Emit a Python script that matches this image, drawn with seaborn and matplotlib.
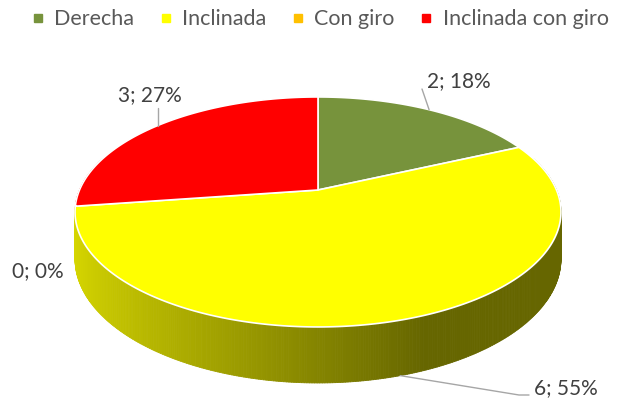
import numpy as np
import matplotlib
matplotlib.use("Agg")
import matplotlib.pyplot as plt
import seaborn as sns
from matplotlib.lines import Line2D
from matplotlib.collections import PolyCollection

# datos
categorias = ["Derecha", "Inclinada", "Con giro", "Inclinada con giro"]
valores = [2, 6, 0, 3]
colores = ["#77933C", "#FFFF00", "#FFC000", "#FF0000"]

sns.set_theme(style="white")
plt.rcParams['font.family'] = ['Lato', 'DejaVu Sans']

fig = plt.figure(figsize=(6.17, 4.01), dpi=100)
ax = fig.add_axes([0, 0, 1, 1])
ax.set_xlim(0, 617)
ax.set_ylim(401, 0)
ax.axis('off')

# perspective pie: centre, radius, tilt, perspective, depth
cx, cy = 318, 190
s, c, k, d = 238.5, 110.8, 0.191, 45.3


def proj(theta, level=0.0):
    t = np.radians(theta)
    X = np.sin(t)
    Z = -np.cos(t)
    w = 1 - k * Z
    return cx + s * X / w, cy + (c * Z + d * level) / w


total = sum(valores)
bordes = np.concatenate([[0], np.cumsum(valores) / total * 360])

# side wall (back to front)
polys, cols, zs = [], [], []
for i, v in enumerate(valores):
    if v == 0:
        continue
    a0, a1 = bordes[i], bordes[i + 1]
    n = max(2, int((a1 - a0) * 2))
    ths = np.linspace(a0, a1, n + 1)
    base = np.array(matplotlib.colors.to_rgb(colores[i]))
    for ta, tb in zip(ths[:-1], ths[1:]):
        tm = np.radians((ta + tb) / 2)
        Z = -np.cos(tm)
        if Z < -0.3:
            continue
        X = np.sin(tm)
        f = max(0.40, 0.52 - 0.33 * X)
        p = [proj(ta, 0), proj(tb, 0), proj(tb, 1), proj(ta, 1)]
        polys.append(p)
        cols.append(tuple(base * f))
        zs.append(Z)
orden = np.argsort(zs)
pc = PolyCollection([polys[j] for j in orden], facecolors=[cols[j] for j in orden],
                    edgecolors=[cols[j] for j in orden], linewidths=0.6)
ax.add_collection(pc)

# top face
for i, v in enumerate(valores):
    if v == 0:
        continue
    ths = np.linspace(bordes[i], bordes[i + 1], 200)
    xs, ys = proj(ths)
    xs = np.concatenate([[cx], xs, [cx]])
    ys = np.concatenate([[cy], ys, [cy]])
    ax.fill(xs, ys, facecolor=colores[i], edgecolor="white", linewidth=1.2,
            joinstyle="round")

# labels
txt_color = "#404040"
lead_color = "#A6A6A6"
pos_etiq = [(459, 81), (566, 388), (38, 271), (150, 95)]
for i, v in enumerate(valores):
    texto = f"{v}; {round(100 * v / total)}%"
    ax.text(*pos_etiq[i], texto, ha="center", va="center", fontsize=15, color=txt_color)

# leader lines from slice mid-angles
mid = (bordes[:-1] + bordes[1:]) / 2
x0, y0 = proj(mid[0], 0)
ax.plot([x0, 422], [y0, 89], color=lead_color, lw=1)
x3, y3 = proj(mid[3], 0)
ax.plot([x3, x3], [y3, 108], color=lead_color, lw=1)
x1, y1 = proj(mid[1], 1)
ax.plot([x1, 519, 529], [y1, 395, 395], color=lead_color, lw=1)

handles = [Line2D([], [], marker="s", linestyle="none", markersize=6,
                  markerfacecolor=col, markeredgecolor=col) for col in colores]
fig.legend(handles, categorias, loc="center left", bbox_to_anchor=(0.047, 0.952),
           ncol=4, frameon=False, fontsize=15.5, handletextpad=0.36,
           columnspacing=1.07, handlelength=0.8, labelcolor="#595959",
           borderaxespad=0, borderpad=0)

fig.savefig("out.png", dpi=100)
